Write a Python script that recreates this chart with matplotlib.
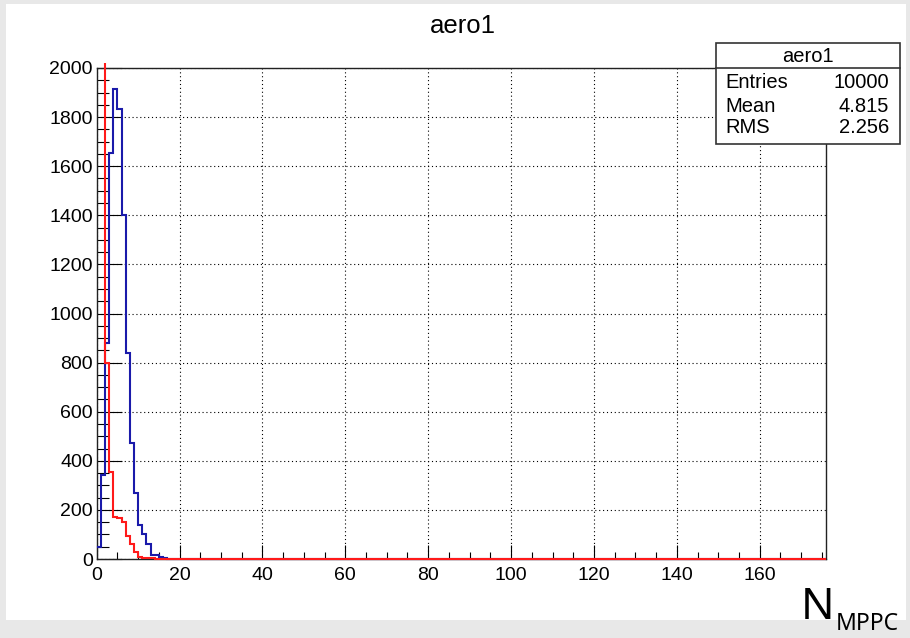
import matplotlib
matplotlib.use("Agg")
import matplotlib.pyplot as plt
from matplotlib.patches import Rectangle
from matplotlib.lines import Line2D
from matplotlib.ticker import MultipleLocator

# Histogram contents, unit-width bins starting at 0 (remaining bins are empty)
n_bins = 176
blue_counts = [50, 342, 881, 1655, 1913, 1833, 1401, 840, 471, 270, 140, 100, 63, 18, 18, 10, 4]
red_counts = [5200, 2960, 798, 356, 172, 166, 152, 95, 62, 28, 10, 5, 4, 3, 2]

# Statistics box contents
stats_title = "aero1"
stats_labels = ["Entries", "Mean", "RMS"]
stats_values = ["10000", "4.815", "2.256"]

# Canvas size in pixels
W, H = 910, 638

def fx(px):
    # pixel column -> figure fraction
    return px / W

def fy(py):
    # pixel row (from top) -> figure fraction
    return 1 - py / H

plt.rcParams["font.family"] = ["Liberation Sans", "DejaVu Sans"]

fig = plt.figure(figsize=(W / 100, H / 100), dpi=100)
fig.patch.set_facecolor("#e8e8e8")
# white canvas inside the grey window border
fig.add_artist(Rectangle((fx(6), fy(620)), fx(906) - fx(6), fy(4) - fy(620),
                         transform=fig.transFigure, facecolor="white",
                         edgecolor="none", zorder=0))

# Frame of the plot
left, right, top, bottom = 96.7, 826, 68, 559
ax = fig.add_axes([fx(left), fy(bottom), fx(right) - fx(left), fy(top) - fy(bottom)])
ax.set_facecolor("white")

edges = list(range(n_bins + 1))
blue_full = blue_counts + [0] * (n_bins - len(blue_counts))
red_full = red_counts + [0] * (n_bins - len(red_counts))

# Clip slightly outside the frame so the zero line sits on top of the axis
clip = Rectangle((0, -0.01), 1, 1.02, transform=ax.transAxes,
                 facecolor="none", edgecolor="none")

h_blue = ax.stairs(blue_full, edges, baseline=None, color="#1a1aaa",
                   linewidth=1.5, zorder=3)
h_red = ax.stairs(red_full, edges, baseline=None, color="#ff1a1a",
                  linewidth=1.5, zorder=4)
h_blue.set_clip_path(clip)
h_red.set_clip_path(clip)

ax.set_xlim(0, n_bins)
ax.set_ylim(0, 2000)

ax.xaxis.set_major_locator(MultipleLocator(20))
ax.xaxis.set_minor_locator(MultipleLocator(5))
ax.yaxis.set_major_locator(MultipleLocator(200))
ax.yaxis.set_minor_locator(MultipleLocator(50))

ax.set_axisbelow(True)
ax.grid(True, which="major", color="black", linestyle=(0, (1, 2.5)), linewidth=0.8)

ax.tick_params(axis="x", which="major", direction="in", length=10, width=0.8,
               labelsize=14, pad=5.5)
ax.tick_params(axis="x", which="minor", direction="in", length=5, width=0.8)
ax.tick_params(axis="y", which="major", direction="in", length=18, width=0.8,
               labelsize=14, pad=2.7)
ax.tick_params(axis="y", which="minor", direction="in", length=8.6, width=0.8)

for side in ["left", "right", "top", "bottom"]:
    ax.spines[side].set_color("#222222")
    ax.spines[side].set_linewidth(1.0)

# Title
fig.text(fx(462.5), fy(26), "aero1", ha="center", va="center", fontsize=18.5)

# Statistics box
fig.add_artist(Rectangle((fx(716), fy(144)), fx(900) - fx(716), fy(43) - fy(144),
                         transform=fig.transFigure, facecolor="white",
                         edgecolor="#333333", linewidth=1.2, zorder=5))
fig.add_artist(Line2D([fx(716), fx(900)], [fy(68), fy(68)],
                      transform=fig.transFigure, color="#333333",
                      linewidth=1.2, zorder=6))
fig.text(fx(808), fy(56), stats_title, ha="center", va="center",
         fontsize=14.5, zorder=7)
row_y = [83, 106, 128]
for label, value, y in zip(stats_labels, stats_values, row_y):
    fig.text(fx(725), fy(y), label, ha="left", va="center", fontsize=14.5, zorder=7)
    fig.text(fx(889), fy(y), value, ha="right", va="center", fontsize=14.5, zorder=7)

# Axis title N_MPPC at the lower right corner
fig.text(fx(801), fy(619), "N", ha="left", va="baseline", fontsize=32,
         family="Noto Sans", zorder=7)
fig.text(fx(836), fy(630), "MPPC", ha="left", va="baseline", fontsize=16.5,
         family="Noto Sans", zorder=7)

fig.savefig("out.png", dpi=100, facecolor=fig.get_facecolor())
